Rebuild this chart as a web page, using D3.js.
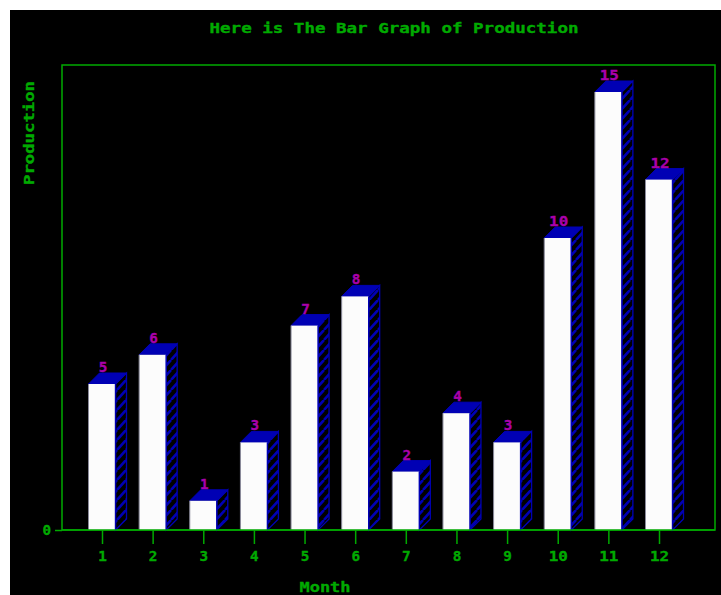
<!DOCTYPE html>
<html>
<head>
<meta charset="utf-8">
<script src="https://cdn.jsdelivr.net/npm/d3@7"></script>
<style>
  html, body { margin: 0; padding: 0; background: #ffffff; }
  svg { display: block; }
  text { font-family: "DejaVu Sans Mono", "Liberation Mono", monospace; font-weight: bold; }
</style>
</head>
<body>
<svg id="chart" width="721" height="595"></svg>
<script>
// Monthly production figures
const months = ["1", "2", "3", "4", "5", "6", "7", "8", "9", "10", "11", "12"];
const production = [5, 6, 1, 3, 7, 8, 2, 4, 3, 10, 15, 12];
const yTicks = [0];

const titleText = "Here is The Bar Graph of Production";
const xTitle = "Month";
const yTitle = "Production";

const GREEN = "#00aa00";
const BLUE = "#0000b4";
const MAGENTA = "#aa00aa";
const CHAR_W = 10.6;   // width of one character cell of the stretched mono font
const FONT = 14;

const svg = d3.select("#chart");

// black drawing surface
svg.append("rect").attr("x", 10).attr("y", 10).attr("width", 711).attr("height", 585).attr("fill", "#000");

const frame = { left: 62, top: 65, right: 715, bottom: 530 };
const barW = 27, depth = 11;

const x = d3.scalePoint().domain(months).range([102, 659]);
const y = d3.scaleLinear().domain([0, 15]).range([frame.bottom, 92]);

// hatched fill for the bar sides: thick "/" stripes on black
const pw = 9, ph = 10;
const pat = svg.append("defs").append("pattern")
  .attr("id", "slash").attr("patternUnits", "userSpaceOnUse")
  .attr("width", pw).attr("height", ph);
pat.append("rect").attr("width", pw).attr("height", ph).attr("fill", "#000");
pat.append("path")
  .attr("d", `M${-pw},${ph} L0,0 M0,${ph} L${pw},0 M${pw},${ph} L${2 * pw},0`)
  .attr("stroke", BLUE).attr("stroke-width", 2.6).attr("fill", "none");

function label(sel, str, fill) {
  return sel.text(str).attr("fill", fill)
    .attr("stroke", fill).attr("stroke-width", 0.35)
    .attr("font-size", FONT)
    .attr("textLength", str.length * CHAR_W - 2)
    .attr("lengthAdjust", "spacingAndGlyphs");
}

// title
label(svg.append("text").attr("x", 394).attr("y", 33).attr("text-anchor", "middle"), titleText, GREEN);

// plot frame
svg.append("rect")
  .attr("x", frame.left).attr("y", frame.top)
  .attr("width", frame.right - frame.left).attr("height", frame.bottom - frame.top)
  .attr("fill", "none").attr("stroke", GREEN).attr("stroke-width", 1.5);

// bars
const bars = svg.append("g").selectAll("g").data(months.map((m, i) => ({ m, v: production[i] }))).join("g");

bars.each(function (d) {
  const g = d3.select(this);
  const x0 = x(d.m) - barW / 2, x1 = x0 + barW;
  const yt = y(d.v), yb = y(0);
  // right side
  g.append("polygon")
    .attr("points", [[x1, yt], [x1 + depth, yt - depth], [x1 + depth, yb - depth], [x1, yb]].join(" "))
    .attr("fill", "url(#slash)").attr("stroke", BLUE).attr("stroke-width", 1.3);
  // top face
  g.append("polygon")
    .attr("points", [[x0, yt], [x0 + depth, yt - depth], [x1 + depth, yt - depth], [x1, yt]].join(" "))
    .attr("fill", BLUE).attr("stroke", BLUE).attr("stroke-width", 1);
  // front face
  g.append("rect").attr("x", x0).attr("y", yt).attr("width", barW).attr("height", yb - yt).attr("fill", "#fcfcfc");
  g.append("line").attr("x1", x0).attr("x2", x0).attr("y1", yt).attr("y2", yb).attr("stroke", "#8a8a9a").attr("stroke-width", 1);
  g.append("line").attr("x1", x1).attr("x2", x1).attr("y1", yt).attr("y2", yb).attr("stroke", BLUE).attr("stroke-width", 1.4);
  // value label
  label(g.append("text").attr("x", x(d.m) + 1).attr("y", yt - depth - 1).attr("text-anchor", "middle"), String(d.v), MAGENTA);
});

// x axis
const xAxis = d3.axisBottom(x).tickSize(14).tickPadding(6);
const gx = svg.append("g").attr("transform", `translate(0,${frame.bottom})`).call(xAxis);
gx.select(".domain").remove();
gx.selectAll(".tick line").attr("stroke", GREEN).attr("stroke-width", 1.5);
gx.selectAll(".tick text").each(function (d) {
  label(d3.select(this).attr("font-family", null).attr("dy", "0.75em"), d, GREEN);
});
svg.append("line").attr("x1", frame.left).attr("x2", frame.right)
  .attr("y1", frame.bottom).attr("y2", frame.bottom).attr("stroke", GREEN).attr("stroke-width", 1.5);

// y axis (zero mark only)
const yAxis = d3.axisLeft(y).tickValues(yTicks).tickSize(7).tickPadding(4).tickFormat(d3.format("d"));
const gy = svg.append("g").attr("transform", `translate(${frame.left},0)`).call(yAxis);
gy.select(".domain").remove();
gy.selectAll(".tick line").attr("stroke", GREEN).attr("stroke-width", 1.5);
gy.selectAll(".tick text").each(function (d) {
  label(d3.select(this).attr("font-family", null).attr("dy", "0.35em"), String(d), GREEN);
});

// axis titles
label(svg.append("text").attr("x", 325).attr("y", 592).attr("text-anchor", "middle"), xTitle, GREEN);
label(svg.append("text").attr("transform", "translate(34,133) rotate(-90)").attr("text-anchor", "middle"), yTitle, GREEN);
</script>
</body>
</html>
